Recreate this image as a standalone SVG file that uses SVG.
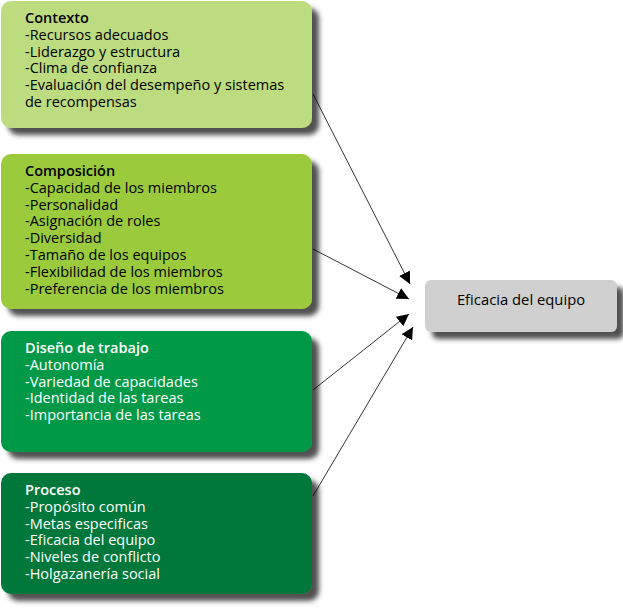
<svg xmlns="http://www.w3.org/2000/svg" width="623" height="615" viewBox="0 0 623 615">
<style>
.t{font-family:"Open Sans","Noto Sans",sans-serif;font-size:14.5px}
.h{font-weight:600}
.dk{fill:#000}
.lt{fill:#fff}
.conn line{stroke:#000;stroke-width:0.8;fill:none}
</style>
<defs>
<filter id="sh" x="-10%" y="-10%" width="130%" height="140%">
<feDropShadow dx="7" dy="7" stdDeviation="2.5" flood-color="#333" flood-opacity="0.85"/>
</filter>
<marker id="ah" viewBox="0 0 10 10" refX="10" refY="5" markerWidth="12" markerHeight="12" markerUnits="userSpaceOnUse" orient="auto">
<path d="M0,0 L10,5 L0,10 Z" fill="#000"/>
</marker>
</defs>
<g id="contexto">
<rect x="1" y="1" width="311" height="127" rx="10" fill="#bddc7f" filter="url(#sh)"/>
<text class="t dk" x="25" y="23"><tspan class="h">Contexto</tspan><tspan x="25" dy="16.8">-Recursos adecuados</tspan><tspan x="25" dy="16.8">-Liderazgo y estructura</tspan><tspan x="25" dy="16.8">-Clima de confianza</tspan><tspan x="25" dy="16.8">-Evaluación del desempeño y sistemas</tspan><tspan x="25" dy="16.8">de recompensas</tspan></text>
</g>
<g id="composicion">
<rect x="1" y="154" width="311" height="155" rx="10" fill="#9bca3d" filter="url(#sh)"/>
<text class="t dk" x="25" y="176"><tspan class="h">Composición</tspan><tspan x="25" dy="16.8">-Capacidad de los miembros</tspan><tspan x="25" dy="16.8">-Personalidad</tspan><tspan x="25" dy="16.8">-Asignación de roles</tspan><tspan x="25" dy="16.8">-Diversidad</tspan><tspan x="25" dy="16.8">-Tamaño de los equipos</tspan><tspan x="25" dy="16.8">-Flexibilidad de los miembros</tspan><tspan x="25" dy="16.8">-Preferencia de los miembros</tspan></text>
</g>
<g id="diseno">
<rect x="1" y="331" width="311" height="121" rx="10" fill="#009946" filter="url(#sh)"/>
<text class="t lt" x="25" y="353"><tspan class="h">Diseño de trabajo</tspan><tspan x="25" dy="16.8">-Autonomía</tspan><tspan x="25" dy="16.8">-Variedad de capacidades</tspan><tspan x="25" dy="16.8">-Identidad de las tareas</tspan><tspan x="25" dy="16.8">-Importancia de las tareas</tspan></text>
</g>
<g id="proceso">
<rect x="1" y="473" width="311" height="121" rx="10" fill="#00773a" filter="url(#sh)"/>
<text class="t lt" x="25" y="495"><tspan class="h">Proceso</tspan><tspan x="25" dy="16.8">-Propósito común</tspan><tspan x="25" dy="16.8">-Metas especificas</tspan><tspan x="25" dy="16.8">-Eficacia del equipo</tspan><tspan x="25" dy="16.8">-Niveles de conflicto</tspan><tspan x="25" dy="16.8">-Holgazanería social</tspan></text>
</g>
<g id="eficacia">
<rect x="425" y="280" width="192" height="52" rx="6" fill="#d0d0d0" filter="url(#sh)"/>
<text class="t dk" x="521" y="305" text-anchor="middle" style="font-size:14.8px;font-weight:500">Eficacia del equipo</text>
</g>
<g class="conn" id="connectors">
<line x1="313" y1="94" x2="410" y2="284" marker-end="url(#ah)"/>
<line x1="313" y1="249" x2="409" y2="299" marker-end="url(#ah)"/>
<line x1="313" y1="390" x2="409" y2="314" marker-end="url(#ah)"/>
<line x1="313" y1="496" x2="413" y2="327" marker-end="url(#ah)"/>
</g>
</svg>
